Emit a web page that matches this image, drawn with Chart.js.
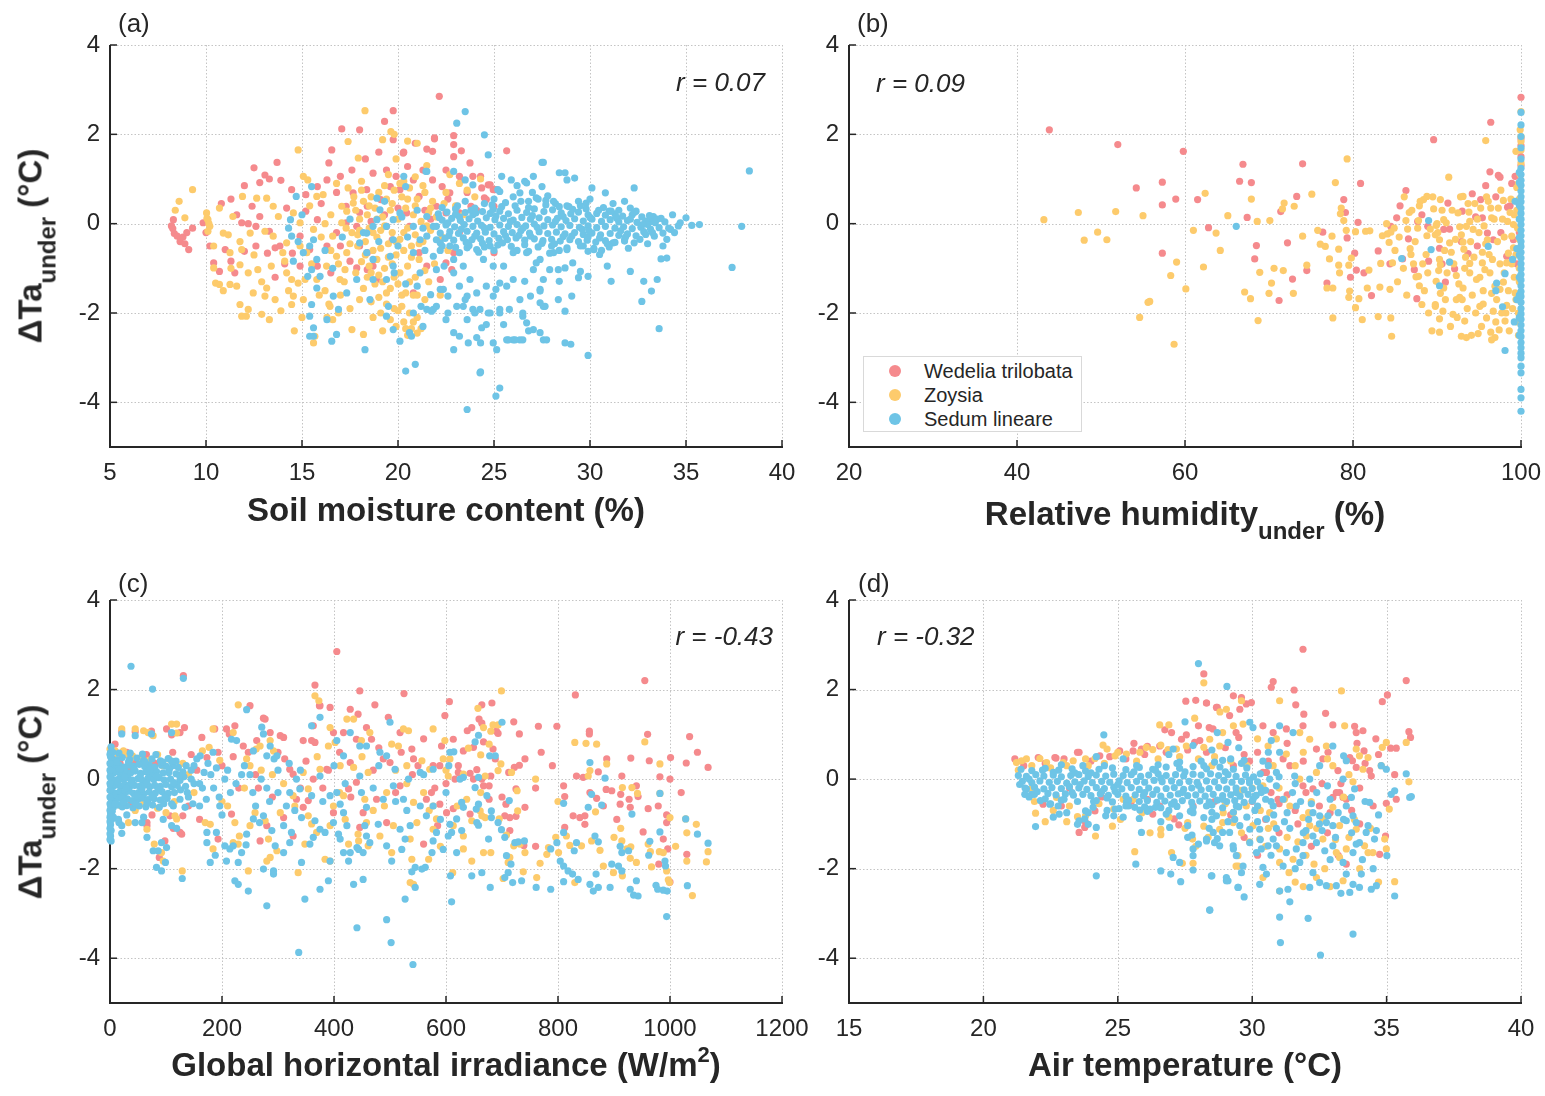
<!DOCTYPE html>
<html>
<head>
<meta charset="utf-8">
<script src="https://cdn.jsdelivr.net/npm/chart.js@4.4.1/dist/chart.umd.min.js"></script>
<style>
  html, body { margin: 0; padding: 0; background: #fff; }
  #page { position: relative; width: 1545px; height: 1096px; overflow: hidden;
          font-family: "Liberation Sans", Arial, sans-serif; color: #262626; }
  canvas { position: absolute; }
  .lbl { position: absolute; white-space: nowrap; line-height: 1; }
  .panel { font-size: 26px; }
  .r { font-size: 26px; font-style: italic; }
  .xt { font-size: 33px; font-weight: bold; transform: translateX(-50%); }
  .yt { font-size: 33px; font-weight: bold; transform: translate(-50%, -50%) rotate(-90deg); }
  .sub { font-size: 24px; position: relative; top: 14px; }
  .sup { font-size: 22px; position: relative; top: -14px; }
  #legend { position: absolute; left: 863px; top: 356px; width: 217px; height: 74px;
            background: #fff; border: 1px solid #d9d9d9; font-size: 20px; }
  #legend .item { position: absolute; left: 0; white-space: nowrap; line-height: 1; }
  #legend .dot { position: absolute; left: 25px; width: 12px; height: 12px; border-radius: 50%; }
  #legend .txt { position: absolute; left: 60px; }
</style>
</head>
<body>
<div id="page">
  <canvas id="chartA" width="822" height="540" style="left:0px;top:0px"></canvas>
  <canvas id="chartB" width="822" height="540" style="left:739px;top:0px"></canvas>
  <canvas id="chartC" width="822" height="541" style="left:0px;top:555px"></canvas>
  <canvas id="chartD" width="822" height="541" style="left:739px;top:555px"></canvas>

  <div class="lbl panel" style="left:118px;top:10px">(a)</div>
  <div class="lbl panel" style="left:857px;top:10px">(b)</div>
  <div class="lbl panel" style="left:118px;top:570px">(c)</div>
  <div class="lbl panel" style="left:858px;top:570px">(d)</div>

  <div class="lbl r" style="right:780px;top:69px">r = 0.07</div>
  <div class="lbl r" style="left:876px;top:70px">r = 0.09</div>
  <div class="lbl r" style="right:772px;top:623px">r = -0.43</div>
  <div class="lbl r" style="left:877px;top:623px">r = -0.32</div>

  <div class="lbl xt" style="left:446px;top:493px">Soil moisture content (%)</div>
  <div class="lbl xt" style="left:1185px;top:497px">Relative humidity<span class="sub">under</span> (%)</div>
  <div class="lbl xt" style="left:446px;top:1048px">Global horizontal irradiance (W/m<span class="sup">2</span>)</div>
  <div class="lbl xt" style="left:1185px;top:1048px">Air temperature (°C)</div>

  <div class="lbl yt" style="left:30px;top:246px">ΔTa<span class="sub">under</span> (°C)</div>
  <div class="lbl yt" style="left:30px;top:802px">ΔTa<span class="sub">under</span> (°C)</div>

  <div id="legend"></div>
</div>

<script>
const seriesNames = ["Wedelia trilobata", "Zoysia", "Sedum lineare"];
const seriesColors = ["#F58A8D", "#FDCB6C", "#6EC4E6"];

const yTicks = [-4, -2, 0, 2, 4];
const soilTicks = [5, 10, 15, 20, 25, 30, 35, 40];
const rhTicks = [20, 40, 60, 80, 100];
const ghiTicks = [0, 200, 400, 600, 800, 1000, 1200];
const airTicks = [15, 20, 25, 30, 35, 40];

// (a) soil moisture content (%) vs dTa under
const soilWedelia = [[8.2,-0.05],[8.27,-0.11],[8.3,0.09],[8.35,-0.22],[8.5,-0.28],[8.65,-0.4],[8.8,-0.3],[8.9,-0.45],[9.1,-0.58],[9.3,-0.1],[9.0,-0.2],[9.85,0.02],[10.0,-0.2],[10.2,-0.5],[10.4,-0.88],[10.7,-1.07],[11.0,-0.58],[11.3,-0.84],[11.5,-1.1],[11.6,0.2],[11.86,0.02],[12.0,0.85],[12.0,-0.62],[12.4,0.39],[12.6,-0.06],[12.6,-0.5],[12.8,0.92],[12.8,0.16],[13.07,1.09],[13.2,-0.66],[13.3,-0.17],[13.6,-0.54],[13.7,1.37],[13.85,-0.5],[13.9,0.97],[14.46,0.76],[15.2,0.65],[15.8,0.83],[16.3,0.98],[16.55,1.65],[17.07,2.12],[18.0,2.1],[16.4,1.36],[17.0,1.06],[15.2,0.28],[15.8,0.09],[14.9,-0.28],[15.4,-0.58],[14.9,-0.95],[14.5,-0.66],[15.8,-0.95],[16.3,-0.5],[16.8,-0.2],[17.3,0.02],[18.0,0.25],[17.3,0.39],[17.66,0.69],[18.37,0.76],[18.7,1.13],[19.4,1.2],[19.75,2.53],[19.3,2.29],[19.75,1.88],[20.27,1.58],[19.9,1.06],[19.6,0.83],[19.1,0.54],[18.4,0.39],[17.85,-0.06],[18.0,-0.5],[17.5,-0.84],[17.85,-0.99],[18.4,-0.65],[18.7,-0.95],[18.9,-1.25],[22.15,2.85],[21.9,1.9],[21.5,1.67],[21.8,1.62],[22.9,1.77],[22.9,1.5],[23.3,1.63],[23.75,1.36],[25.66,1.63],[22.5,1.2],[23.2,1.06],[23.9,1.06],[24.36,0.8],[24.7,0.87],[24.96,0.76],[22.3,0.83],[22.7,0.69],[21.8,0.98],[21.3,1.2],[20.8,0.98],[20.5,1.28],[20.1,0.76],[21.1,0.61],[22.0,0.39],[22.5,0.24],[23.2,0.24],[23.8,0.39],[24.5,0.58],[25.0,0.39],[23.2,-0.2],[22.9,-0.65],[22.5,-0.88],[22.8,-1.03],[22.2,-1.25],[25.0,-0.65],[19.7,-0.36],[19.4,-0.06],[20.6,-0.06],[20.45,0.24],[21.1,-0.65],[21.5,-0.95],[20.8,-1.55],[18.4,-1.03],[21.9,1.92],[22.9,1.97],[24.3,1.06],[24.8,0.87],[24.6,0.54],[25.1,0.76],[23.3,0.98],[20.3,1.6],[12.5,1.25],[13.3,1.0],[11.3,0.55],[10.8,0.45],[12.2,0.0],[14.2,0.35],[16.0,0.45],[16.8,0.7],[17.6,1.2],[18.3,1.45],[19.0,1.6],[20.9,1.8],[21.4,0.3],[20.0,0.35],[22.6,0.55],[23.6,0.7],[24.1,0.3],[21.7,0.1],[19.3,0.2],[18.6,0.05],[17.0,-0.5],[16.5,-1.1],[14.1,-0.9],[13.6,-1.2]];
const soilZoysia = [[8.4,0.3],[8.6,0.5],[8.9,0.13],[9.3,0.76],[10.03,0.24],[10.1,0.09],[10.2,-0.06],[10.1,-0.17],[10.05,0.12],[10.15,0.0],[10.7,0.35],[10.9,-0.21],[11.16,-0.25],[10.4,-0.5],[10.4,-0.99],[10.5,-1.33],[10.7,-1.36],[11.25,-1.36],[11.6,-1.4],[11.77,-1.81],[11.86,-2.07],[12.1,-2.07],[12.2,-1.92],[12.46,-1.55],[12.9,-2.03],[13.3,-2.15],[13.16,-1.44],[13.6,-1.7],[13.07,-1.62],[11.77,-0.92],[12.2,-1.1],[12.7,-1.03],[11.25,-0.65],[11.77,-0.4],[11.86,-0.58],[12.3,-0.21],[13.07,-0.17],[13.5,-0.28],[14.0,-0.65],[14.1,-0.84],[14.2,-1.1],[14.46,-1.25],[14.55,-1.62],[14.46,-1.81],[15.07,-1.7],[15.16,-1.25],[14.8,-1.33],[14.2,-0.43],[13.77,0.16],[13.5,0.39],[13.16,0.57],[12.64,0.57],[11.9,0.61],[11.4,0.16],[14.8,1.65],[15.07,1.06],[15.3,0.98],[15.77,0.61],[16.1,0.65],[14.55,0.24],[14.9,0.02],[15.6,-0.13],[15.25,-0.65],[15.77,-1.25],[16.6,-2.15],[16.46,-1.85],[16.98,-1.25],[17.24,-1.03],[17.33,-0.65],[16.8,-0.73],[16.28,-0.95],[16.6,-0.28],[17.07,0.02],[17.33,0.28],[17.07,0.39],[17.67,0.46],[18.1,0.95],[17.93,1.47],[17.4,1.84],[18.28,2.53],[19.2,1.88],[19.63,2.06],[17.6,-2.37],[18.2,-2.48],[16.3,-2.1],[15.6,-2.67],[15.67,-2.52],[14.3,-1.5],[14.9,-0.5],[15.5,-0.9],[16.0,-0.3],[16.5,0.2],[13.9,-1.95],[12.5,-0.7],[10.9,-1.5],[11.3,-1.0],[17.8,0.3],[18.2,0.5],[18.6,0.6],[19.0,0.7],[19.4,0.55],[19.8,0.75],[20.2,0.6],[20.6,0.8],[21.0,0.55],[21.4,0.7],[21.8,0.5],[18.0,0.1],[18.4,0.2],[18.8,0.35],[19.2,0.15],[19.6,0.3],[20.0,0.1],[20.4,0.35],[20.8,0.2],[21.2,0.05],[21.6,0.25],[22.0,0.15],[17.6,-0.2],[18.0,-0.15],[18.5,-0.1],[18.9,-0.3],[19.3,-0.05],[19.7,-0.2],[20.1,-0.35],[20.5,-0.1],[20.9,-0.25],[21.3,-0.4],[21.7,-0.15],[17.9,-0.5],[18.3,-0.4],[18.7,-0.6],[19.1,-0.55],[19.5,-0.45],[19.9,-0.7],[20.3,-0.6],[20.7,-0.5],[21.1,-0.8],[18.1,-0.85],[18.5,-0.95],[18.9,-0.8],[19.3,-1.0],[19.7,-0.9],[20.1,-1.1],[20.5,-0.95],[20.9,-1.2],[18.4,-1.2],[18.8,-1.35],[19.2,-1.3],[19.6,-1.45],[20.0,-1.35],[20.4,-1.55],[20.8,-1.6],[19.0,-1.65],[19.4,-1.8],[19.8,-1.9],[20.2,-1.85],[20.6,-2.0],[21.0,-2.1],[20.3,-2.2],[20.7,-2.35],[20.5,-2.5],[21.0,-2.45],[19.9,-2.3],[20.3,0.95],[19.5,1.1],[20.9,1.05],[21.5,1.3],[19.9,1.45],[22.7,1.1],[23.2,0.9],[23.6,0.75],[24.0,0.6],[24.3,1.0],[22.5,0.7],[23.0,0.4],[22.3,-0.3],[22.6,-0.6],[21.9,-0.9],[21.6,-1.3],[22.2,-1.6],[21.4,-1.7],[22.4,0.45],[23.4,0.2],[17.0,-1.6],[17.5,-1.9],[18.0,-1.7],[16.8,0.9],[17.4,0.8],[16.2,-1.5],[15.0,-2.1],[14.6,-2.4],[16.9,-2.0],[18.7,-2.1],[13.4,-0.95],[12.9,-1.3],[19.8,2.0],[20.5,1.85],[21.0,1.8],[17.7,0.6],[18.1,0.75],[18.5,0.4],[18.9,0.1],[19.3,0.85],[19.7,0.45],[20.1,0.9],[20.5,0.55],[20.9,0.4],[21.3,0.85],[21.7,0.35],[17.5,-0.45],[17.9,-0.25],[18.3,-0.7],[18.7,-0.2],[19.1,-0.15],[19.5,-0.75],[19.9,-0.4],[20.3,-0.2],[20.7,-0.75],[21.1,-0.45],[21.5,-0.05],[17.8,-1.1],[18.2,-1.45],[18.6,-1.1],[19.0,-1.15],[19.4,-1.55],[19.8,-1.2],[20.2,-1.6],[20.6,-1.3],[21.0,-1.6],[21.4,-1.05],[18.6,-1.75],[19.1,-2.0],[19.6,-2.15],[20.0,-1.95],[20.4,-2.35],[20.8,-2.2],[21.2,-2.35],[19.2,-2.4],[16.5,-0.6],[16.9,-0.9],[17.2,-1.3],[16.4,-1.8],[15.9,-1.6],[17.3,-0.1],[16.2,0.0],[15.4,0.4]];
const soilSedum = [[23.5,2.51],[23.06,2.25],[24.5,1.99],[24.7,1.54],[27.57,1.37],[27.05,1.06],[26.6,0.95],[25.9,0.98],[25.4,1.06],[25.2,0.76],[23.9,0.87],[23.5,0.98],[22.9,1.17],[21.5,1.17],[20.3,1.06],[20.4,0.83],[18.9,0.57],[15.5,0.83],[14.7,0.61],[14.4,0.09],[14.3,-0.1],[14.46,-0.28],[14.55,-0.84],[15.07,-0.65],[15.4,-0.5],[15.6,-0.36],[15.77,-0.8],[15.5,-1.03],[15.3,-1.18],[15.94,-1.18],[15.77,-1.44],[15.5,-1.81],[15.4,-2.07],[15.6,-2.33],[15.4,-2.52],[15.6,-2.52],[16.3,-2.15],[16.8,-2.48],[16.55,-2.63],[16.63,-1.62],[16.9,-1.92],[17.33,-1.55],[17.85,-1.25],[18.28,-2.82],[18.54,-1.7],[18.7,-1.25],[18.7,-0.8],[18.37,-0.65],[18.0,-0.43],[18.37,-0.21],[18.7,-0.06],[18.9,0.09],[19.06,0.31],[19.4,-0.06],[19.75,0.09],[20.1,0.24],[19.75,-0.36],[19.6,-0.73],[19.75,-0.95],[19.4,-1.25],[19.5,-1.85],[19.4,-2.07],[19.75,-2.37],[20.1,-2.63],[20.4,-3.3],[20.9,-3.15],[20.6,-2.44],[20.8,-2.0],[21.3,-2.3],[21.5,-1.92],[21.0,-1.4],[21.15,-1.1],[20.8,-0.65],[21.15,-0.36],[20.8,-0.06],[21.5,0.16],[21.84,-0.06],[21.5,-0.28],[22.2,-0.43],[21.84,-0.73],[22.0,-1.03],[22.36,-1.47],[22.0,-1.85],[22.5,-2.15],[22.9,-2.44],[22.9,-2.82],[23.2,-2.52],[23.6,-2.15],[23.4,-1.85],[23.2,-1.4],[22.9,-1.1],[23.4,-0.95],[23.75,-1.25],[24.1,-1.55],[23.6,-1.62],[24.27,-1.92],[24.0,-2.0],[24.36,-2.33],[24.27,-3.34],[24.96,-2.67],[24.7,-2.0],[24.96,-1.62],[24.6,-1.4],[25.3,-1.33],[25.1,-1.47],[25.66,-1.4],[26.0,-1.25],[25.3,-2.0],[25.5,-2.26],[25.66,-2.6],[26.0,-2.6],[26.35,-2.6],[26.7,-2.22],[27.4,-2.44],[27.57,-2.6],[27.05,-2.37],[26.5,-2.0],[26.35,-1.7],[26.9,-1.62],[27.4,-1.47],[27.57,-1.25],[27.05,-1.03],[27.4,-0.8],[26.7,-0.65],[26.0,-0.65],[25.5,-0.95],[24.96,-0.95],[24.45,-0.8],[24.1,-0.58],[24.8,-0.5],[23.6,-0.54],[23.2,-0.65],[22.7,-0.5],[22.9,-0.8],[22.4,-0.95],[20.7,-2.52],[21.75,-1.96],[22.6,-2.0],[23.66,-2.67],[24.1,-2.55],[24.3,-2.67],[24.6,-2.26],[25.14,-2.82],[25.75,-2.6],[26.1,-2.6],[26.5,-2.6],[26.8,-2.4],[27.74,-2.6],[28.7,-2.67],[29.0,-2.7],[28.7,-1.96],[29.05,-1.62],[28.35,-1.7],[27.4,-1.77],[27.66,-1.85],[26.5,-2.07],[25.8,-1.92],[25.3,-1.92],[24.8,-2.0],[23.9,-1.92],[23.5,-1.7],[23.06,-1.85],[22.6,-1.62],[22.2,-1.47],[21.7,-1.59],[21.2,-1.85],[21.84,-1.92],[29.9,-1.18],[29.4,-1.21],[29.5,-1.07],[28.4,-1.29],[28.7,-0.99],[28.35,-1.03],[27.9,-1.03],[27.2,-0.88],[26.6,-1.29],[27.4,-1.51],[27.57,-1.85],[31.1,-1.29],[30.9,-0.95],[32.1,-1.07],[32.8,-1.29],[33.5,-1.25],[33.2,-1.51],[32.7,-1.74],[33.6,-2.35],[33.7,-0.79],[34.0,-0.77],[33.8,-0.5],[30.5,-0.69],[30.2,-0.58],[29.65,-0.5],[28.8,-0.58],[28.1,-0.65],[29.1,-0.88],[31.2,-0.43],[31.8,-0.36],[29.9,-2.95],[23.6,-4.16],[25.1,-3.86],[25.3,-3.68],[24.3,-3.32],[37.4,-0.98],[27.5,1.37],[28.4,1.14],[28.7,1.14],[29.2,1.02],[28.8,0.98],[30.1,0.8],[30.8,0.69],[32.3,0.8],[31.8,0.5],[32.1,0.35],[31.0,0.28],[29.8,0.46],[26.7,0.91],[27.5,0.83],[25.3,0.72],[26.35,0.69],[34.3,0.2],[35.0,0.13],[35.7,-0.02],[35.3,-0.04],[37.9,-0.06],[38.3,1.18],[34.7,0.02],[33.3,0.16],[33.2,0.05],[33.8,-0.21],[34.2,-0.13],[21.46,1.17],[27.2,0.58],[27.7,0.52],[28.2,0.45],[28.8,0.4],[26.8,0.5],[17.5,0.1],[18.2,-0.2],[19.0,-0.4],[19.3,0.5],[20.0,-0.5],[20.5,-0.3],[20.2,0.15],[21.0,0.3],[21.3,-0.1],[19.8,-1.1],[20.4,-1.35],[21.4,-0.6],[16.2,-0.6],[16.6,-1.0],[17.1,-0.3],[15.0,0.2],[14.8,-0.4],[22.3,0.36],[23.1,0.4],[24.0,0.35],[24.9,0.42],[25.6,0.47],[26.4,0.5],[27.3,0.55],[28.1,0.5],[28.9,0.38],[29.8,0.33],[30.7,0.36],[31.5,0.3],[32.4,0.28],[22.1,0.22],[22.55,0.26],[23.0,0.21],[23.5,0.25],[23.9,0.2],[24.4,0.27],[24.8,0.23],[25.3,0.28],[25.75,0.22],[26.2,0.3],[26.7,0.25],[27.1,0.33],[27.6,0.27],[28.05,0.31],[28.5,0.24],[29.0,0.22],[29.4,0.26],[29.9,0.2],[30.35,0.23],[30.8,0.19],[31.3,0.22],[31.7,0.17],[32.2,0.2],[32.7,0.15],[33.1,0.18],[22.3,0.08],[22.8,0.12],[23.25,0.07],[23.7,0.11],[24.15,0.06],[24.6,0.13],[25.05,0.09],[25.5,0.12],[26.0,0.08],[26.45,0.14],[26.9,0.1],[27.35,0.13],[27.8,0.09],[28.3,0.12],[28.75,0.07],[29.2,0.11],[29.65,0.06],[30.1,0.1],[30.6,0.05],[31.05,0.09],[31.5,0.04],[31.95,0.07],[32.45,0.03],[32.9,0.06],[33.4,0.02],[33.9,0.04],[22.0,-0.06],[22.5,-0.03],[22.95,-0.07],[23.45,-0.02],[23.9,-0.06],[24.35,-0.04],[24.8,-0.08],[25.3,-0.03],[25.75,-0.06],[26.2,-0.02],[26.65,-0.05],[27.1,-0.01],[27.6,-0.05],[28.05,-0.03],[28.5,-0.07],[28.95,-0.04],[29.45,-0.08],[29.9,-0.05],[30.35,-0.09],[30.8,-0.06],[31.3,-0.1],[31.75,-0.07],[32.2,-0.11],[32.65,-0.08],[33.15,-0.12],[33.6,-0.09],[34.1,-0.1],[22.2,-0.21],[22.7,-0.18],[23.15,-0.22],[23.6,-0.17],[24.1,-0.21],[24.55,-0.19],[25.0,-0.23],[25.5,-0.18],[25.95,-0.2],[26.4,-0.16],[26.85,-0.21],[27.35,-0.18],[27.8,-0.22],[28.25,-0.19],[28.7,-0.23],[29.2,-0.2],[29.65,-0.24],[30.1,-0.21],[30.55,-0.25],[31.05,-0.22],[31.5,-0.26],[31.95,-0.23],[32.4,-0.27],[32.9,-0.24],[33.35,-0.28],[22.0,-0.36],[22.45,-0.33],[22.9,-0.37],[23.4,-0.32],[23.85,-0.36],[24.3,-0.34],[24.75,-0.38],[25.25,-0.33],[25.7,-0.36],[26.15,-0.32],[26.6,-0.37],[27.1,-0.34],[27.55,-0.38],[28.0,-0.35],[28.45,-0.39],[28.95,-0.36],[29.4,-0.4],[29.85,-0.37],[30.3,-0.41],[30.8,-0.38],[31.3,-0.42],[31.8,-0.39],[32.3,-0.43],[22.3,-0.5],[23.0,-0.53],[23.7,-0.49],[24.5,-0.52],[25.2,-0.48],[25.9,-0.51],[26.6,-0.47],[27.3,-0.52],[28.0,-0.5],[28.8,-0.54],[29.5,-0.5],[30.2,-0.55],[31.0,-0.52],[22.6,0.02],[23.3,-0.12],[23.8,0.3],[24.4,-0.44],[25.1,0.17],[25.6,-0.27],[26.1,0.4],[26.5,-0.1],[27.0,0.18],[27.5,-0.44],[28.2,0.05],[28.6,-0.29],[29.1,0.32],[29.6,-0.13],[30.0,0.14],[30.5,-0.32],[31.1,0.28],[31.6,-0.16],[32.1,0.1],[32.6,-0.35],[33.0,-0.02],[33.5,0.1],[34.4,-0.2],[23.0,0.33],[24.0,-0.28],[25.4,0.38],[26.9,-0.28],[28.4,0.38],[29.9,-0.3],[31.4,0.12],[32.8,-0.18],[22.2,-0.6],[24.2,-0.64],[26.2,-0.6],[27.9,-0.66],[29.9,-0.62],[26.0,0.6],[27.8,0.62],[25.0,0.55],[29.4,0.5],[22.15,0.14],[22.65,-0.27],[23.2,0.15],[23.55,-0.42],[24.05,0.24],[24.5,-0.1],[24.95,0.32],[25.45,-0.43],[25.85,0.05],[26.3,-0.26],[26.8,0.36],[27.25,-0.08],[27.7,0.42],[28.15,-0.45],[28.6,0.16],[29.05,-0.28],[29.5,0.4],[29.95,-0.16],[30.45,0.3],[30.9,-0.45],[31.35,0.16],[31.85,-0.3],[32.3,0.25],[32.75,-0.02],[33.25,-0.2],[33.7,0.12],[34.0,-0.35],[34.6,-0.05],[25.0,-0.6],[26.8,-0.62],[28.4,-0.6],[30.6,-0.6],[32.0,-0.55],[33.0,-0.45],[23.5,0.5],[24.5,0.45],[30.0,0.55],[31.2,0.45],[27.0,0.7],[26.2,0.85]];

// (b) relative humidity under (%) vs dTa under
const rhWedelia = [[43.85,2.1],[52.0,1.77],[54.2,0.8],[57.3,0.93],[57.3,0.42],[58.9,0.55],[59.8,1.62],[57.3,-0.66],[61.5,0.54],[62.8,-0.09],[66.5,0.95],[66.9,1.33],[67.9,0.92],[67.4,0.14],[68.5,-0.49],[68.3,-0.79],[71.2,-1.72],[72.8,-1.24],[72.2,-0.43],[71.4,0.27],[73.3,0.61],[74.0,1.34],[74.5,-1.05],[76.4,-0.19],[76.9,-1.33],[78.9,0.54],[79.1,0.25],[79.3,-0.32],[79.7,-1.2],[80.4,-1.04],[80.2,-0.66],[80.6,0.03],[80.9,0.9],[81.3,-1.1],[82.2,-1.61],[83.0,-0.61],[84.5,-0.06],[84.4,-0.9],[85.2,0.13],[85.9,-0.79],[86.3,0.74],[86.6,-0.34],[87.3,-1.03],[87.6,-1.68],[87.7,0.05],[89.0,-0.84],[88.9,-0.06],[89.6,1.88],[90.3,-0.55],[91.0,-1.31],[91.3,0.46],[90.8,-0.13],[91.5,-0.12],[92.1,-1.01],[93.0,0.28],[93.7,-0.67],[94.2,0.67],[94.6,0.15],[95.2,0.54],[95.4,0.13],[96.4,2.27],[96.3,1.16],[96.7,-0.36],[96.0,-0.21],[97.3,1.08],[97.5,1.04],[98.4,0.37],[98.7,0.4],[98.3,-0.73],[99.3,1.06],[99.1,-0.36],[99.7,0.5],[99.8,-0.2],[100,2.83],[100,1.9],[100,1.75],[100,1.5],[100,1.3],[85.6,0.4],[88.2,0.2],[90.6,-0.9],[92.9,-0.4],[94.8,-0.5],[97.6,-0.2],[98.9,0.9],[99.5,-0.9],[95.8,0.85],[97.0,0.6]];
const rhZoysia = [[43.2,0.09],[47.3,0.25],[51.75,0.27],[55.0,0.18],[49.6,-0.19],[48.0,-0.37],[50.7,-0.36],[55.6,-1.76],[54.6,-2.1],[58.7,-2.7],[55.8,-1.74],[59.0,-0.86],[58.3,-1.16],[60.1,-1.46],[62.4,0.68],[61.0,-0.15],[63.7,-0.21],[64.2,-0.6],[62.2,-0.97],[65.1,0.18],[67.9,0.55],[68.6,0.05],[70.1,0.07],[68.9,-1.09],[67.1,-1.53],[67.8,-1.68],[68.7,-2.17],[70.0,-1.56],[70.6,-1.0],[70.3,-1.33],[71.7,-1.05],[72.9,-1.56],[71.8,0.46],[71.6,0.33],[73.0,0.39],[75.1,0.66],[74.0,-0.28],[74.5,-0.93],[75.8,-0.15],[76.1,-0.46],[76.7,-0.51],[77.5,-0.28],[77.9,0.92],[77.2,-0.79],[78.3,-0.57],[76.9,-1.44],[77.6,-1.44],[77.6,-2.11],[78.3,-0.93],[78.4,-1.1],[78.9,0.07],[79.2,-0.15],[78.6,0.35],[78.5,0.22],[79.3,1.45],[79.5,-0.93],[79.6,-1.51],[79.5,-1.65],[79.8,-0.77],[80.3,-1.88],[80.3,-0.18],[80.7,-1.68],[81.1,-2.15],[81.7,-1.44],[81.9,-1.04],[81.5,-0.17],[82.0,-0.16],[83.3,-0.89],[83.0,-2.08],[83.2,-1.42],[84.0,0.0],[83.5,-0.27],[84.1,-0.23],[84.5,-0.19],[84.3,-0.42],[84.6,-2.52],[84.5,-2.11],[84.4,-1.47],[84.7,-0.88],[84.9,-0.1],[86.1,0.6],[86.3,0.07],[86.5,-0.12],[86.8,-0.56],[86.9,-0.69],[87.2,-0.9],[87.5,-1.19],[87.9,-1.39],[87.8,-1.18],[88.2,-1.81],[88.0,0.5],[88.4,0.54],[88.8,0.61],[87.8,0.07],[87.7,-0.1],[88.7,-0.69],[88.8,-0.27],[89.2,-0.12],[89.6,0.33],[89.8,-0.25],[89.9,-0.04],[90.0,0.0],[90.3,-0.36],[90.3,-0.8],[90.4,-0.92],[89.9,-1.29],[90.4,-1.56],[90.8,-1.44],[89.8,-1.81],[89.8,-1.85],[90.7,-1.96],[90.3,-2.13],[90.3,-2.43],[91.4,1.04],[90.4,0.54],[90.8,0.09],[91.1,0.02],[91.5,-0.43],[91.5,-0.86],[91.7,-0.64],[91.9,-2.03],[92.3,-1.7],[92.3,-1.16],[92.5,0.24],[92.7,-0.07],[93.1,0.61],[92.9,-0.25],[93.1,-0.41],[93.2,-0.57],[93.1,-1.44],[92.7,-1.65],[93.0,-1.7],[93.3,-2.18],[92.9,-2.52],[93.5,-2.55],[93.9,-1.1],[93.9,-0.89],[93.5,-0.06],[93.8,0.26],[93.9,0.05],[94.3,-0.13],[95.2,0.35],[94.9,-2.46],[95.1,-1.85],[95.5,-1.5],[95.4,-0.64],[95.4,-0.88],[95.7,-1.03],[95.8,1.86],[96.4,0.35],[96.5,0.13],[96.0,-0.36],[96.2,-0.69],[96.4,-2.43],[96.9,-2.55],[97.4,-2.38],[95.9,-2.11],[96.7,-1.96],[97.1,-1.7],[96.5,-1.56],[97.5,-1.47],[97.9,-1.31],[98.3,-1.83],[98.1,-2.18],[97.6,0.75],[97.9,0.52],[98.7,0.25],[98.3,-0.88],[98.5,-0.66],[99.1,-0.54],[99.4,1.62],[99.5,0.81],[99.1,-0.02],[98.9,-0.28],[99.3,-1.55],[85.5,-0.3],[86.0,-1.0],[87.0,0.3],[88.5,-1.5],[89.0,-2.0],[90.9,-0.6],[91.8,0.3],[92.0,-0.9],[92.6,-1.35],[93.6,-1.9],[94.0,-0.4],[94.5,0.45],[94.7,-1.25],[95.0,-0.2],[95.6,-0.05],[95.9,0.6],[96.3,-1.1],[96.8,0.1],[97.2,-0.4],[97.5,-0.9],[97.8,0.1],[98.0,-0.3],[98.5,-1.5],[98.8,0.55],[99.0,-1.9],[99.2,-1.2],[99.4,-0.7],[99.5,0.3],[99.6,-2.2],[99.7,-2.5],[100,2.51],[100,1.95],[100,1.84],[100,1.65],[100,1.36],[99.8,-0.35],[99.8,-1.0],[99.7,0.9],[94.2,-1.6],[93.4,-0.75],[91.2,-1.1],[90.1,-0.2],[96.6,-0.8],[97.0,-2.2],[98.2,-2.0],[94.6,-2.0],[95.3,-2.3],[85.0,-0.6],[85.3,-1.3],[86.4,-1.6],[86.7,0.25],[87.4,-0.4],[87.9,0.4],[88.3,-0.9],[88.9,-1.1],[89.4,-2.4],[89.5,0.6],[90.2,-1.05],[90.6,0.3],[91.0,-1.7],[91.6,-2.3],[92.2,-0.35],[92.4,-2.1],[92.8,0.6],[93.3,-1.0],[93.7,0.45],[94.1,-2.5],[94.4,-0.75],[94.8,0.1],[95.1,-1.2],[95.5,-1.8],[95.8,-0.45],[96.1,0.5],[96.5,-2.6],[96.9,-1.4],[97.3,0.35],[97.7,-2.0],[98.0,-1.1],[98.4,0.05],[98.6,-2.4],[98.9,-0.9],[99.2,0.2],[99.4,-1.7],[99.6,-0.1],[99.7,-2.0],[99.8,0.55],[99.8,-1.3],[99.9,1.1],[99.9,2.1]];
const rhSedum = [[66.1,-0.06],[85.8,-0.78],[89.0,0.07],[89.3,-0.58],[90.3,-1.39],[91.5,-0.86],[96.1,-0.51],[97.1,-1.33],[97.0,-1.5],[97.8,-1.86],[98.1,-2.84],[98.1,-1.12],[99.5,-0.56],[99.5,-1.7],[99.2,-2.2],[99.0,-0.8],[99.3,0.5],[100,2.49],[100,2.21],[100,1.95],[100,1.7],[100,1.45],[100,1.24],[100,1.1],[100,0.97],[100,0.86],[100,0.73],[100,0.6],[100,0.49],[100,0.35],[100,0.23],[100,0.1],[100,-0.02],[100,-0.15],[100,-0.27],[100,-0.4],[100,-0.51],[100,-0.64],[100,-0.77],[100,-0.9],[100,-1.01],[100,-1.14],[100,-1.26],[100,-1.39],[100,-1.52],[100,-1.63],[100,-1.76],[100,-1.9],[100,-2.02],[100,-2.14],[100,-2.27],[100,-2.4],[100,-2.53],[100,-2.66],[100,-2.78],[100,-2.9],[100,-3.0],[100,-3.19],[100,-3.34],[100,-3.71],[100,-3.9],[100,-4.2],[99.8,0.92],[99.8,0.41],[99.8,-0.31],[99.8,-0.7],[99.8,-1.2],[99.8,-1.6],[99.8,-2.1],[99.8,-2.5],[99.8,1.15],[99.8,0.1]];

// (c) global horizontal irradiance (W/m2) vs dTa under
const ghiWedelia = [[131,2.31],[405,2.85],[366,2.1],[374,1.64],[446,1.97],[525,1.91],[473,1.66],[250,1.64],[274,1.36],[9,0.78],[21,1.06],[45,1.06],[60,0.37],[66,-0.97],[66,-1.04],[88,-1.75],[98,-1.38],[113,-1.1],[125,-1.19],[128,-1.23],[107,-0.82],[130,-0.82],[133,1.15],[125,1.04],[110,0.99],[101,1.12],[74,1.07],[30,0.6],[39,0.37],[33,0.22],[164,0.93],[173,0.48],[187,1.12],[193,0.6],[208,1.12],[213,1.01],[223,1.19],[238,0.74],[247,0.6],[262,0.86],[277,1.34],[286,1.04],[304,0.97],[310,0.93],[312,0.45],[193,-1.34],[217,-0.78],[268,-1.38],[280,-1.04],[310,-0.86],[321,0.22],[327,0.11],[345,0.86],[360,0.86],[366,0.82],[363,1.19],[375,1.64],[393,1.6],[399,1.04],[417,1.04],[429,1.56],[443,1.45],[458,1.15],[440,0.89],[467,0.89],[429,0.37],[387,0.22],[363,0.0],[354,-0.48],[333,-0.45],[345,-0.63],[327,-1.27],[399,-0.75],[426,-0.22],[446,-1.08],[452,-0.75],[440,-0.07],[497,1.38],[518,1.04],[539,0.67],[488,0.45],[500,0.37],[542,0.45],[577,0.3],[518,-0.15],[476,-0.45],[565,-0.45],[589,-0.56],[494,-0.97],[560,-1.45],[955,2.2],[831,1.88],[682,1.7],[664,1.66],[606,1.73],[598,1.42],[659,1.34],[664,1.25],[721,1.28],[731,1.01],[765,1.18],[798,1.18],[856,1.07],[856,1.01],[887,0.45],[930,0.47],[963,0.41],[1001,0.48],[1029,0.36],[1049,0.6],[1068,0.26],[940,-0.15],[982,0.05],[1000,0.0],[961,-0.66],[979,-0.6],[994,-0.8],[994,-0.97],[1030,-1.68],[996,-1.56],[988,-1.34],[952,-1.18],[929,-0.63],[943,-0.39],[927,-0.45],[914,0.07],[912,-0.34],[911,-0.56],[896,-0.26],[886,-0.23],[872,0.16],[845,0.04],[857,-0.3],[869,-0.43],[881,-0.6],[833,0.07],[810,-0.15],[812,-0.39],[827,-0.82],[839,-0.86],[848,-0.82],[848,-1.01],[812,-1.08],[714,-1.15],[739,-1.48],[705,-0.82],[714,-0.86],[725,-0.83],[741,-0.63],[707,-0.56],[725,-0.22],[712,0.15],[722,0.26],[731,0.31],[741,0.45],[688,0.45],[684,0.67],[649,0.71],[667,0.83],[690,1.07],[693,1.02],[646,1.15],[638,1.08],[631,0.63],[613,0.89],[622,0.3],[622,0.15],[616,0.0],[643,0.13],[649,0.0],[655,0.21],[664,0.0],[667,-0.15],[677,-0.15],[680,0.07],[677,-0.45],[643,-0.78],[613,-0.66],[601,-0.75],[585,-1.04],[574,-0.3],[589,0.3],[592,0.74],[6,0.45],[18,0.35],[50,0.4],[65,0.55],[80,0.35],[112,0.6],[145,0.55],[155,0.2],[10,-0.4],[38,-0.55],[75,-0.8],[140,-0.6],[160,-0.9],[200,0.3],[230,-0.2],[260,0.1],[290,-0.4],[350,0.4],[380,-0.2],[410,0.6],[470,0.2],[540,0.1],[560,0.9],[580,-0.2],[520,0.6],[1035,0.95],[1020,-0.3],[960,1.0],[905,-0.9],[790,0.3],[760,-0.2],[770,0.6],[700,-0.4],[980,-1.9],[1000,-2.3],[760,-1.5],[220,0.5],[265,-0.2],[300,0.6],[340,-0.2],[390,0.2],[430,-0.4],[480,0.7],[510,-0.3],[550,0.3],[600,-0.1]];
const ghiZoysia = [[0,0.67],[9,0.63],[21,1.12],[45,1.12],[36,0.45],[33,-0.97],[66,-1.12],[79,-1.45],[92,-1.64],[95,-1.83],[116,-0.82],[119,-0.89],[129,-2.05],[110,1.23],[119,1.23],[119,1.03],[60,1.08],[68,1.04],[77,0.97],[24,0.63],[177,0.71],[165,0.63],[184,1.12],[196,0.42],[220,1.04],[229,1.66],[244,0.45],[261,0.67],[268,0.74],[286,0.86],[292,0.63],[184,-1.56],[170,-0.97],[179,-1.01],[220,-1.42],[229,-1.45],[231,-1.27],[223,-0.97],[247,-2.05],[250,-1.04],[259,-0.75],[277,-0.93],[283,-1.34],[298,-1.6],[286,-1.75],[280,-1.83],[304,-0.75],[345,0.15],[390,0.74],[393,1.15],[402,0.82],[423,1.34],[435,1.34],[449,0.86],[464,1.04],[435,0.26],[411,0.3],[375,0.22],[354,-0.22],[327,-0.37],[354,-0.82],[369,-1.19],[348,-1.45],[336,-2.09],[384,-1.79],[393,-1.83],[393,-1.04],[399,-0.6],[417,-0.37],[426,-1.45],[444,-1.38],[443,-1.23],[458,-0.97],[455,-0.45],[461,0.15],[461,-1.49],[524,1.12],[533,1.08],[503,0.78],[515,0.74],[530,0.3],[557,0.41],[571,0.22],[494,-0.3],[542,-0.52],[577,-0.6],[548,-0.97],[506,-1.04],[482,-1.27],[503,-1.64],[539,-1.79],[569,-1.79],[542,-2.35],[536,-2.31],[536,-1.34],[577,-1.12],[366,1.86],[373,1.75],[699,1.97],[657,1.58],[830,0.82],[869,0.78],[887,0.34],[955,0.83],[982,0.34],[932,-0.19],[942,-0.32],[982,-0.32],[1000,-0.86],[1028,-0.89],[1047,-1.01],[1068,-1.62],[1030,-1.83],[997,-2.25],[999,-2.31],[994,-2.05],[988,-1.64],[981,-1.62],[967,-1.96],[965,-1.62],[961,-1.45],[940,-1.86],[929,-1.77],[923,-1.56],[930,-1.51],[915,-0.19],[912,-1.1],[914,-1.38],[857,0.19],[854,0.07],[867,-0.73],[860,-1.38],[875,-1.59],[842,-1.49],[821,-1.48],[815,-1.27],[796,-1.3],[783,-1.53],[780,-1.68],[768,-1.88],[801,-1.64],[830,-2.31],[881,-1.94],[915,-2.16],[899,-2.09],[762,-2.2],[711,-1.86],[738,-2.07],[702,-2.22],[612,-2.09],[631,-1.56],[646,-1.83],[667,-1.64],[680,-1.64],[714,-1.75],[721,-1.49],[732,-1.45],[741,-1.64],[708,-1.25],[695,-0.89],[728,-0.71],[727,-0.26],[717,0.15],[698,0.34],[693,0.19],[677,0.78],[662,0.54],[667,1.15],[680,1.07],[684,1.21],[693,1.21],[640,0.69],[598,0.86],[607,0.45],[631,0.11],[604,0.07],[670,0.07],[662,-0.3],[661,-0.71],[670,-0.86],[664,-0.82],[646,-0.93],[637,-0.45],[613,-1.04],[631,-1.27],[583,-0.89],[595,0.45],[577,1.12],[1065,-1.85],[1030,-1.2],[2,0.62],[15,0.5],[28,0.55],[40,0.52],[55,0.48],[70,0.42],[85,0.55],[95,0.3],[105,0.45],[130,0.35],[3,-0.5],[20,-0.6],[45,-0.7],[60,-0.55],[85,-0.65],[100,-0.75],[115,-0.5],[140,0.1],[150,-0.3],[200,-0.5],[240,-0.2],[270,0.2],[310,-0.1],[360,-1.0],[420,-0.9],[470,-0.7],[510,0.2],[560,-0.3],[590,-1.5],[620,-0.6],[760,0.0],[800,-0.5],[850,0.8],[900,-1.3],[1010,-1.5],[1040,-2.6],[210,-0.6],[250,0.3],[290,0.1],[330,-0.6],[370,0.5],[410,-0.3],[450,0.5],[490,-0.6],[530,-0.1],[570,-0.7],[600,0.2]];
const ghiSedum = [[37.5,2.52],[76,2.01],[131,2.25],[244,1.55],[271,1.16],[21,1.01],[45,0.97],[21,-1.04],[21,-1.21],[16,-0.97],[45,-0.97],[57,-0.97],[66,-1.3],[77,-1.6],[86,-1.6],[92,-1.42],[92,-2.05],[83,-1.97],[101,-1.53],[99,-1.86],[110,-1.04],[113,-0.6],[129,-2.22],[119,-1.1],[134,-0.63],[110,1.04],[74,1.01],[161,0.52],[184,0.6],[217,0.89],[226,0.86],[256,0.63],[274,1.01],[286,0.74],[293,0.45],[280,0.52],[298,0.52],[179,-1.86],[188,-1.7],[173,-1.42],[173,-1.19],[190,-1.19],[205,-1.49],[208,-1.83],[214,-1.56],[220,-1.49],[229,-1.86],[243,-1.47],[235,-1.64],[223,-2.27],[229,-2.35],[247,-2.5],[244,-1.23],[256,-0.89],[267,-0.97],[274,-0.82],[289,-1.15],[295,-1.49],[292,-2.12],[292,-2.05],[280,-2.83],[274,-2.01],[310,-1.64],[310,-1.04],[333,0.0],[360,1.19],[375,1.38],[405,0.86],[429,1.04],[446,0.74],[458,0.74],[417,0.52],[375,0.07],[360,-0.37],[339,-0.22],[321,-0.3],[342,-0.86],[366,-0.93],[375,-1.12],[363,-1.3],[357,-1.45],[324,-1.19],[321,-1.42],[348,-2.68],[337,-3.87],[342,-1.86],[375,-2.46],[390,-2.27],[393,-1.83],[384,-1.19],[399,-0.97],[393,-0.37],[405,-0.3],[411,-0.56],[417,-0.75],[423,-1.04],[408,-1.23],[411,-1.34],[417,-1.64],[429,-1.64],[426,-1.83],[441,-1.53],[444,-1.57],[452,-1.64],[455,-1.04],[458,-0.63],[449,-0.3],[446,0.07],[435,-2.35],[452,-2.24],[441,-3.32],[464,-1.42],[458,-1.27],[500,1.27],[494,0.52],[482,0.6],[509,0.22],[554,0.15],[533,0.0],[506,-0.15],[488,-0.45],[524,-0.45],[554,-0.6],[565,-0.82],[536,-1.04],[518,-1.12],[479,-1.01],[494,-1.49],[503,-1.83],[527,-2.68],[539,-2.07],[545,-1.97],[557,-2.01],[563,-1.97],[575,-1.64],[545,-2.42],[541,-4.14],[502,-3.65],[494,-3.14],[521,-1.57],[527,-1.34],[577,-1.38],[583,-1.19],[595,-1.57],[884,0.02],[857,0.37],[860,-0.34],[878,-0.58],[810,-0.54],[854,-0.63],[866,-1.27],[872,-1.4],[833,-1.42],[829,-1.6],[810,-1.19],[798,-1.42],[787,-1.56],[804,-1.83],[810,-1.94],[818,-2.05],[826,-2.12],[836,-2.24],[810,-2.29],[857,-2.35],[863,-2.5],[872,-2.42],[893,-2.42],[868,-2.12],[896,-1.9],[908,-1.94],[914,-2.05],[787,-2.46],[761,-2.42],[735,-2.27],[719,-2.31],[711,-2.09],[705,-2.2],[679,-2.42],[664,-2.09],[646,-2.16],[610,-2.74],[608,-2.16],[619,-1.64],[676,-1.34],[708,-1.71],[716,-1.9],[723,-1.42],[740,-1.38],[729,-1.4],[705,-1.3],[699,-1.13],[693,-0.97],[713,-0.48],[688,0.52],[678,0.52],[658,0.98],[700,1.27],[652,0.83],[614,0.61],[607,0.6],[605,0.3],[625,0.0],[631,0.04],[652,-0.19],[658,0.04],[673,-0.37],[658,-0.56],[654,-0.67],[681,-0.71],[681,-0.86],[655,-0.97],[658,-1.03],[631,-0.63],[628,-0.52],[619,-0.89],[607,-1.01],[610,-1.19],[628,-1.15],[604,-1.27],[577,-0.6],[577,0.22],[982,-1.18],[962,-1.7],[964,-1.39],[940,-2.27],[935,-2.59],[943,-2.61],[929,-2.46],[932,-0.78],[926,-1.6],[911,-1.5],[914,-1.64],[1028,-0.89],[1049,-1.23],[1068,-1.43],[1031,-2.38],[995,-2.5],[994,-3.07],[975,-2.37],[978,-2.46],[988,-2.48],[991,-1.83],[992,-1.94],[982,-0.32],[150,0.3],[165,-0.2],[180,0.1],[195,-0.4],[210,0.2],[225,-0.1],[240,0.3],[255,-0.3],[270,0.0],[285,-0.5],[300,0.2],[315,-0.6],[200,-0.8],[160,-0.6],[145,0.0],[175,0.35],[250,0.1],[280,-0.2],[320,0.35],[330,-0.7],[3,0.46],[12,0.43],[22,0.48],[35,0.44],[48,0.47],[60,0.42],[75,0.45],[90,0.41],[104,0.46],[2,0.31],[8,0.28],[16,0.32],[25,0.27],[33,0.31],[42,0.29],[52,0.33],[62,0.28],[70,0.32],[80,0.27],[92,0.31],[100,0.29],[112,0.3],[122,0.26],[1,0.16],[6,0.13],[13,0.17],[20,0.12],[28,0.16],[37,0.14],[45,0.18],[55,0.13],[65,0.16],[73,0.12],[83,0.17],[95,0.14],[105,0.15],[118,0.12],[130,0.16],[2,0.01],[9,-0.02],[17,0.02],[24,-0.01],[32,0.03],[40,-0.02],[50,0.01],[58,-0.03],[68,0.02],[78,-0.01],[88,0.03],[97,-0.02],[108,0.0],[125,-0.03],[1,-0.14],[5,-0.17],[12,-0.13],[19,-0.16],[27,-0.12],[35,-0.17],[44,-0.14],[53,-0.16],[62,-0.13],[71,-0.17],[80,-0.14],[90,-0.16],[100,-0.12],[110,-0.17],[120,-0.14],[135,-0.16],[3,-0.29],[10,-0.32],[18,-0.28],[26,-0.31],[34,-0.27],[42,-0.32],[51,-0.3],[60,-0.33],[70,-0.29],[81,-0.31],[93,-0.28],[104,-0.32],[115,-0.3],[2,-0.44],[8,-0.47],[15,-0.43],[23,-0.46],[31,-0.44],[40,-0.48],[50,-0.45],[59,-0.42],[68,-0.46],[79,-0.44],[90,-0.47],[102,-0.43],[1,-0.6],[6,-0.63],[14,-0.58],[22,-0.62],[30,-0.59],[41,-0.64],[52,-0.6],[64,-0.62],[76,-0.58],[88,-0.63],[1,0.6],[2,0.72],[1,-0.78],[3,-0.9],[1,-1.02],[2,-1.15],[1,-1.27],[2,-1.38],[4,-0.72],[6,-0.85],[4,0.2],[7,-0.35],[11,0.38],[14,-0.07],[18,0.22],[21,-0.4],[26,0.05],[29,-0.2],[33,0.38],[38,-0.08],[43,0.22],[47,-0.37],[54,0.06],[57,-0.22],[63,0.38],[66,-0.08],[72,0.22],[76,-0.38],[84,0.07],[86,-0.24],[94,0.38],[98,-0.4],[106,0.22],[114,-0.08],[118,0.4],[126,-0.24],[132,0.05],[140,-0.4],[145,0.2],[150,-0.1],[0,0.35],[0,0.05],[0,-0.25],[0,-0.55],[0,-0.85],[0,-1.1],[0,-1.35],[1,0.5],[0,0.55],[0,0.2],[0,-0.1],[0,-0.4],[0,-0.7],[0,-0.95],[0,-1.22],[5,0.6],[9,-0.55],[16,0.58],[24,-0.52],[36,0.58],[46,-0.55],[58,0.56],[66,-0.53],[82,0.55],[96,-0.55],[110,0.4],[124,0.08],[136,0.3],[138,-0.3],[148,-0.55],[155,0.45],[160,-0.1],[168,0.15],[172,-0.45],[185,-0.2],[190,0.25],[196,-0.6],[205,0.0],[110,-0.55],[125,-0.45],[95,-0.9],[60,-0.85],[30,-0.8],[15,-0.9],[215,-0.3],[235,0.1],[260,-0.6],[300,-0.3],[340,0.2],[380,-0.5],[400,0.3],[420,-0.1],[470,-0.2],[480,0.3],[510,-0.5],[530,-0.7],[560,0.1],[590,-0.9],[600,-0.3]];

// (d) air temperature (degC) vs dTa under
const airWedelia = [[28.2,2.35],[27.53,1.74],[27.9,1.76],[28.3,1.7],[28.7,1.6],[29.3,1.86],[28.0,1.19],[28.4,1.15],[27.0,1.04],[26.75,1.1],[27.55,0.99],[25.6,0.8],[26.1,0.73],[23.56,0.6],[22.7,0.47],[27.86,0.82],[29.5,0.93],[23.56,-1.19],[27.27,-1.02],[26.56,-0.6],[26.3,-0.78],[27.1,-0.89],[24.15,-0.71],[23.8,-0.97],[23.77,-1.08],[22.22,-0.56],[21.17,0.45],[22.04,0.48],[22.66,0.48],[23.5,0.6],[24.33,0.52],[25.07,0.63],[25.57,0.63],[25.88,0.67],[26.56,0.74],[27.37,0.89],[28.05,0.86],[28.54,1.12],[29.16,1.42],[29.4,1.04],[31.89,2.9],[30.78,2.18],[30.71,2.05],[31.56,1.99],[31.62,1.66],[31.92,1.45],[32.73,1.47],[33.0,1.21],[33.81,1.18],[34.12,1.08],[33.87,1.04],[34.84,1.73],[35.03,1.88],[35.73,2.2],[35.83,1.06],[35.89,0.93],[35.15,0.69],[35.36,0.69],[34.99,-0.54],[35.36,-0.45],[34.96,-1.27],[34.74,-1.68],[34.37,0.19],[34.43,0.07],[34.16,0.63],[33.63,0.48],[33.73,0.41],[33.87,0.26],[33.19,0.19],[33.25,-0.3],[33.38,-0.41],[33.13,-0.3],[33.0,-0.41],[33.5,-0.45],[30.96,-0.45],[30.53,0.15],[31.15,0.45],[31.4,0.3],[31.89,-0.15],[32.26,-0.22],[32.63,0.45],[32.82,0.6],[32.39,0.67],[31.89,1.19],[31.27,1.12],[30.78,1.04],[30.4,1.19],[29.54,1.56],[29.78,1.68],[29.97,1.71],[29.6,1.82],[28.3,1.7],[28.67,1.6],[21.5,0.3],[22.3,0.35],[23.0,0.45],[24.0,0.4],[24.7,0.5],[25.3,0.45],[26.0,0.55],[26.8,0.6],[27.6,0.65],[28.3,0.6],[29.0,0.7],[29.7,0.55],[30.2,0.6],[30.0,-0.5],[30.5,-0.9],[31.0,-1.2],[31.6,-0.7],[32.0,-0.3],[32.5,-0.6],[32.8,-1.2],[33.2,-1.7],[34.0,-0.2],[34.5,-0.6],[31.3,0.8],[30.6,0.4],[29.2,-0.8],[28.6,-0.5],[27.8,-0.6],[25.5,-0.5],[24.4,-0.4],[22.9,-0.6],[23.2,-0.2],[26.1,-0.45],[29.7,-1.3],[31.7,-1.0],[32.2,-1.5],[33.5,-1.9],[30.2,-1.7],[33.9,0.8],[34.6,0.9],[29.3,0.3],[29.9,0.4],[30.4,0.15],[31.0,-0.55],[31.9,0.4],[32.6,-0.1],[33.3,-0.1],[33.7,-0.7],[34.2,0.35],[34.7,0.55],[32.9,-0.75],[31.3,-0.35],[30.7,-0.3],[35.3,0.1],[34.0,-1.0]];
const airZoysia = [[28.2,2.15],[28.8,1.5],[27.86,1.36],[26.56,1.21],[26.9,1.21],[26.6,0.76],[24.45,0.76],[24.6,0.67],[25.0,0.6],[28.79,0.74],[21.94,-0.76],[23.5,-0.84],[24.17,-1.27],[25.63,-1.62],[26.6,-1.12],[26.6,-1.24],[27.6,-0.97],[27.0,-1.64],[27.4,-1.88],[27.78,-1.34],[27.8,-1.88],[28.36,-1.3],[29.4,-1.94],[29.47,-1.71],[29.3,-0.75],[28.9,-0.97],[25.57,-0.45],[25.2,-0.45],[24.85,-0.67],[23.8,-0.82],[22.72,-0.41],[21.79,-0.22],[21.23,0.37],[21.42,0.41],[21.6,0.45],[22.1,0.46],[22.35,0.37],[22.97,0.37],[23.34,0.41],[23.8,0.45],[24.15,0.46],[24.9,0.52],[25.32,0.56],[25.82,0.6],[26.06,0.71],[26.3,0.66],[26.87,0.66],[27.18,0.67],[27.55,0.74],[28.2,0.71],[28.42,0.89],[28.9,1.04],[29.3,1.19],[31.02,1.75],[33.32,1.97],[33.44,1.19],[35.73,0.82],[34.84,0.71],[34.99,0.82],[35.83,-0.06],[35.1,-0.67],[34.99,-1.56],[35.3,-2.29],[34.93,-1.34],[34.49,-1.64],[34.31,0.48],[33.87,0.67],[33.99,0.52],[34.12,0.22],[33.75,-0.06],[33.0,-0.63],[32.63,-0.89],[33.25,-1.04],[33.87,-1.12],[34.18,-1.49],[34.31,-1.64],[33.5,-1.56],[33.13,-1.64],[33.25,-1.75],[33.38,-2.27],[32.39,-2.2],[31.37,-2.09],[31.02,-1.86],[31.02,-2.5],[30.4,-2.2],[29.48,-1.94],[30.28,-1.34],[31.02,-1.56],[31.52,-1.79],[32.02,-1.27],[32.63,-1.34],[32.14,-1.04],[31.89,-0.86],[31.4,-0.6],[30.65,-0.75],[30.03,-1.04],[29.29,-0.97],[28.79,-1.12],[28.92,-0.75],[29.78,-0.6],[30.4,-0.15],[30.78,0.3],[31.27,0.56],[31.77,0.0],[32.39,0.15],[32.76,0.74],[32.14,0.89],[31.77,1.04],[30.59,0.74],[29.66,1.23],[29.6,1.75],[29.04,1.56],[21.3,0.2],[21.8,0.3],[22.5,0.25],[23.1,0.3],[23.9,0.3],[24.5,0.35],[25.7,0.4],[26.5,0.45],[27.3,0.5],[28.0,0.45],[28.6,0.5],[29.2,0.4],[29.8,0.3],[21.9,-0.5],[22.6,-0.7],[23.2,-0.6],[24.3,-0.55],[25.9,-0.75],[26.9,-0.85],[27.5,-1.1],[28.2,-1.05],[29.9,-1.4],[30.6,-1.1],[31.3,-1.3],[32.0,-1.7],[32.7,-2.0],[33.6,-1.3],[34.0,-2.0],[31.6,-2.3],[32.9,-2.4],[30.0,-0.2],[31.0,-0.2],[32.2,-0.5],[33.0,0.3],[30.2,0.9],[28.5,0.3],[29.0,-0.55],[29.6,-0.25],[30.3,-0.7],[30.8,-1.0],[31.2,-0.45],[31.7,-1.4],[32.1,-0.75],[32.4,-1.1],[33.1,-1.35],[33.4,-0.4],[33.8,-0.9],[34.4,-1.1],[34.7,-2.3],[32.3,-1.9],[31.9,-2.4],[30.5,-1.5],[29.6,-1.2],[27.9,-1.5],[26.2,-1.2],[25.1,-0.9],[24.8,-1.05],[23.1,-0.95],[22.3,-0.95],[33.6,0.1],[34.8,0.3],[32.8,0.45],[31.6,0.3],[30.9,0.9],[31.9,0.6]];
const airSedum = [[28.0,2.58],[29.06,2.07],[27.5,1.28],[24.48,0.99],[27.06,0.67],[28.7,1.04],[29.1,0.82],[21.94,-1.06],[22.82,-0.78],[23.56,-0.93],[23.9,-1.01],[24.2,-1.08],[24.55,-0.82],[24.85,-0.82],[24.2,-2.16],[25.67,-1.9],[25.88,-1.19],[25.8,-0.88],[26.93,-1.08],[27.6,-1.04],[26.6,-2.05],[26.97,-2.12],[27.06,-1.75],[27.3,-1.86],[27.34,-2.29],[27.76,-1.25],[27.8,-1.56],[27.8,-1.71],[27.8,-2.03],[28.0,-1.45],[28.3,-1.38],[28.6,-1.42],[28.42,-2.92],[28.5,-2.16],[29.04,-2.2],[29.1,-2.27],[29.47,-2.42],[29.3,-1.56],[29.35,-0.9],[28.9,-1.19],[28.7,-1.33],[28.5,-0.9],[28.2,-0.86],[27.8,-0.75],[27.3,-0.82],[26.8,-0.78],[26.4,-0.63],[26.2,-0.67],[25.82,-0.69],[25.63,-0.63],[25.32,-0.51],[25.05,-0.66],[24.9,-0.67],[24.08,-0.63],[23.8,-0.71],[23.5,-1.01],[23.77,-0.89],[23.1,-0.75],[22.78,-0.6],[22.47,-0.56],[22.12,-0.48],[21.79,-0.34],[21.6,-0.22],[21.54,-0.34],[35.73,0.12],[35.86,-0.41],[35.92,-0.39],[34.8,0.3],[34.99,0.22],[35.17,-0.34],[35.3,-0.26],[35.01,-1.71],[35.3,-2.61],[34.55,-1.34],[34.62,-1.15],[34.31,-1.04],[34.37,-0.52],[34.2,-0.5],[33.4,0.52],[33.5,0.41],[33.38,0.0],[33.81,-0.22],[33.69,-0.41],[33.5,-0.6],[32.82,-0.82],[32.76,-0.97],[33.0,-1.04],[33.5,-0.93],[33.75,-0.82],[33.87,-0.97],[33.99,-1.42],[34.24,-1.19],[33.87,-1.45],[33.75,-1.64],[33.0,-1.49],[33.38,-1.86],[33.5,-2.12],[33.63,-2.53],[33.75,-2.35],[33.99,-2.42],[34.43,-2.46],[34.62,-2.38],[34.06,-2.12],[33.75,-3.46],[33.13,-2.38],[32.76,-2.38],[32.51,-2.31],[32.26,-2.09],[32.14,-2.42],[32.08,-3.11],[32.54,-3.93],[31.02,-3.08],[31.05,-3.65],[31.33,-2.46],[31.02,-2.5],[31.4,-2.74],[31.15,-1.94],[30.53,-2.12],[30.4,-1.97],[30.28,-2.35],[29.7,-2.63],[29.48,-2.42],[29.6,-2.09],[29.66,-1.94],[29.04,-2.27],[28.48,-2.16],[28.42,-2.93],[29.41,-1.71],[29.29,-1.49],[29.91,-1.42],[30.16,-1.64],[30.34,-1.56],[30.59,-1.49],[30.78,-1.34],[30.9,-1.49],[31.27,-1.64],[31.64,-1.56],[31.89,-1.42],[32.26,-1.27],[32.39,-1.42],[31.77,-1.86],[31.89,-1.71],[32.51,-0.82],[32.26,-0.75],[31.64,-0.6],[31.15,-0.45],[30.78,-0.6],[30.53,-0.89],[30.28,-1.12],[29.91,-1.12],[29.54,-1.04],[29.16,-1.19],[28.55,-1.19],[28.3,-1.34],[28.79,-1.49],[28.67,-0.82],[29.41,-0.6],[30.03,-0.45],[30.34,-0.3],[30.65,0.0],[30.9,0.15],[31.02,0.6],[31.58,0.07],[32.14,0.0],[32.51,0.3],[33.0,0.74],[31.52,1.04],[31.02,1.19],[30.71,0.86],[30.03,1.15],[29.91,1.27],[30.2,-0.6],[30.5,-0.45],[30.8,-0.8],[31.2,-0.95],[31.5,-0.3],[31.8,-0.5],[32.1,-0.9],[32.4,-0.3],[30.3,-1.35],[30.7,-1.7],[31.4,-1.1],[32.0,-1.15],[32.7,-1.6],[32.9,-0.45],[33.2,-0.75],[32.6,-1.15],[21.4,0.22],[21.8,0.19],[22.3,0.24],[22.8,0.2],[23.3,0.23],[23.8,0.18],[24.3,0.22],[24.8,0.25],[25.3,0.21],[25.8,0.26],[26.3,0.22],[26.8,0.27],[27.3,0.24],[27.8,0.28],[28.3,0.23],[28.8,0.27],[29.3,0.22],[29.8,0.25],[21.3,0.08],[21.6,0.06],[21.95,0.1],[22.25,0.07],[22.6,0.09],[22.9,0.05],[23.25,0.08],[23.55,0.1],[23.9,0.06],[24.2,0.09],[24.55,0.07],[24.85,0.11],[25.2,0.08],[25.5,0.1],[25.85,0.06],[26.15,0.09],[26.5,0.12],[26.8,0.08],[27.15,0.1],[27.45,0.07],[27.8,0.11],[28.1,0.09],[28.45,0.12],[28.75,0.08],[29.1,0.1],[29.4,0.06],[29.75,0.09],[30.05,0.05],[21.45,-0.05],[21.8,-0.08],[22.1,-0.04],[22.45,-0.07],[22.75,-0.05],[23.1,-0.09],[23.4,-0.06],[23.75,-0.04],[24.05,-0.08],[24.4,-0.05],[24.7,-0.07],[25.05,-0.04],[25.35,-0.08],[25.7,-0.05],[26.0,-0.07],[26.35,-0.03],[26.65,-0.06],[27.0,-0.04],[27.3,-0.08],[27.65,-0.05],[27.95,-0.07],[28.3,-0.04],[28.6,-0.06],[28.95,-0.03],[29.25,-0.07],[29.6,-0.05],[29.9,-0.08],[30.2,-0.06],[21.55,-0.2],[21.9,-0.18],[22.25,-0.22],[22.55,-0.19],[22.9,-0.21],[23.2,-0.17],[23.55,-0.2],[23.85,-0.23],[24.2,-0.19],[24.5,-0.21],[24.85,-0.18],[25.15,-0.22],[25.5,-0.19],[25.8,-0.23],[26.15,-0.2],[26.45,-0.24],[26.8,-0.21],[27.1,-0.19],[27.45,-0.23],[27.75,-0.2],[28.1,-0.24],[28.4,-0.21],[28.75,-0.19],[29.05,-0.22],[29.4,-0.2],[29.7,-0.24],[30.0,-0.21],[30.3,-0.19],[21.9,-0.34],[22.4,-0.32],[22.7,-0.35],[23.05,-0.33],[23.35,-0.36],[23.7,-0.34],[24.0,-0.37],[24.35,-0.33],[24.65,-0.36],[25.0,-0.34],[25.3,-0.38],[25.65,-0.35],[25.95,-0.37],[26.3,-0.34],[26.6,-0.38],[26.95,-0.36],[27.25,-0.33],[27.6,-0.37],[27.9,-0.35],[28.25,-0.38],[28.55,-0.34],[28.9,-0.37],[29.2,-0.35],[29.55,-0.38],[29.85,-0.34],[30.15,-0.36],[22.9,-0.47],[23.5,-0.5],[24.2,-0.48],[24.8,-0.51],[25.4,-0.47],[25.8,-0.5],[26.1,-0.48],[26.45,-0.52],[26.75,-0.49],[27.1,-0.51],[27.4,-0.48],[27.75,-0.52],[28.05,-0.49],[28.4,-0.51],[28.7,-0.47],[29.05,-0.5],[29.35,-0.48],[29.7,-0.52],[30.0,-0.49],[26.0,-0.62],[26.6,-0.64],[27.2,-0.61],[27.8,-0.63],[28.3,-0.6],[28.9,-0.64],[29.5,-0.62],[21.7,0.0],[22.0,-0.28],[22.6,0.15],[23.0,-0.45],[23.6,-0.12],[24.0,0.14],[24.6,-0.42],[25.0,-0.12],[25.6,0.16],[26.0,-0.3],[26.6,0.02],[27.0,-0.56],[27.5,0.16],[28.0,-0.14],[28.5,-0.58],[29.0,0.16],[29.4,-0.3],[29.9,-0.02],[30.3,0.12],[30.5,-0.25],[22.3,-0.44],[23.4,0.14],[24.4,-0.28],[25.4,-0.6],[26.4,0.2],[27.4,-0.3],[28.2,0.3],[28.9,-0.45],[29.6,0.35],[30.1,-0.38],[30.6,0.3],[30.9,-0.15],[29.2,0.45],[28.6,0.38],[27.2,0.35],[21.35,-0.12],[21.7,-0.4],[22.2,0.2],[22.5,-0.55],[22.9,0.32],[23.3,-0.3],[23.7,0.3],[24.1,-0.5],[24.5,0.3],[24.9,-0.27],[25.3,-0.6],[25.7,0.3],[26.1,-0.72],[26.5,0.32],[26.9,-0.7],[27.3,0.38],[27.7,-0.72],[28.1,0.4],[28.5,-0.74],[28.9,0.42],[29.3,-0.74],[29.7,0.42],[30.1,-0.7],[30.4,0.4],[30.7,-0.5],[31.0,0.05],[31.3,-0.75],[31.6,-0.1],[31.9,-1.2],[32.2,-0.55],[32.5,-1.0],[32.8,-0.15],[33.1,-1.3],[33.4,-0.9],[33.7,-1.2],[30.9,-1.1],[30.2,-0.95],[29.8,-0.85],[29.1,-0.95],[28.4,-1.1],[27.6,-1.3],[26.6,-0.95],[25.2,-0.85],[24.6,-0.7],[23.9,-0.75],[22.6,-0.85],[31.6,-2.0],[32.9,-1.8],[33.3,-2.55],[34.1,-1.8],[34.7,-0.8],[34.5,-2.0],[30.6,0.6],[29.5,0.7],[28.5,0.65],[27.8,0.75],[26.9,0.55],[25.2,0.45],[24.2,0.5]];

// drawing helpers
const tickFont = { family: "'Liberation Sans', Arial, sans-serif", size: 24 };
const inkColor = "#262626";

const matlabAxes = {
  id: "matlabAxes",
  beforeDatasetsDraw(chart) {
    const { ctx, chartArea: a, scales: { x, y } } = chart;
    ctx.save();
    // dotted grid
    ctx.strokeStyle = "#c4c4c4";
    ctx.lineWidth = 1;
    ctx.setLineDash([1.5, 2]);
    x.ticks.forEach(t => {
      const px = Math.round(x.getPixelForValue(t.value)) + 0.5;
      ctx.beginPath(); ctx.moveTo(px, a.top); ctx.lineTo(px, a.bottom); ctx.stroke();
    });
    y.ticks.forEach(t => {
      const py = Math.round(y.getPixelForValue(t.value)) + 0.5;
      ctx.beginPath(); ctx.moveTo(a.left, py); ctx.lineTo(a.right, py); ctx.stroke();
    });
    ctx.setLineDash([]);
    // axis lines left and bottom, ticks pointing inward
    ctx.strokeStyle = inkColor;
    ctx.lineWidth = 2;
    ctx.beginPath();
    ctx.moveTo(a.left, a.top); ctx.lineTo(a.left, a.bottom); ctx.lineTo(a.right + 1, a.bottom);
    ctx.stroke();
    ctx.lineWidth = 1.5;
    x.ticks.forEach(t => {
      const px = x.getPixelForValue(t.value);
      ctx.beginPath(); ctx.moveTo(px, a.bottom); ctx.lineTo(px, a.bottom - 7); ctx.stroke();
    });
    y.ticks.forEach(t => {
      const py = y.getPixelForValue(t.value);
      ctx.beginPath(); ctx.moveTo(a.left, py); ctx.lineTo(a.left + 7, py); ctx.stroke();
    });
    ctx.restore();
  }
};

function makeChart(canvasId, xTicks, series, padRight) {
  const ctx = document.getElementById(canvasId).getContext("2d");
  return new Chart(ctx, {
    type: "scatter",
    data: {
      datasets: series.map((pts, i) => ({
        label: seriesNames[i],
        data: pts.map(p => ({ x: p[0], y: p[1] })),
        pointBackgroundColor: seriesColors[i],
        backgroundColor: seriesColors[i],
        pointRadius: 3.6,
        pointBorderWidth: 0,
        pointHoverRadius: 3.6,
        order: 3 - i,
        clip: false
      }))
    },
    options: {
      responsive: false,
      animation: false,
      devicePixelRatio: 1,
      events: [],
      layout: { padding: { left: 0, right: padRight, top: 45, bottom: 0 } },
      plugins: { legend: { display: false }, tooltip: { enabled: false } },
      scales: {
        x: {
          type: "linear",
          min: xTicks[0],
          max: xTicks[xTicks.length - 1],
          afterBuildTicks: s => { s.ticks = xTicks.map(v => ({ value: v })); },
          afterFit: s => { s.height = 93; },
          grid: { display: false, drawTicks: false },
          border: { display: false },
          ticks: { font: tickFont, color: inkColor, padding: 12, maxRotation: 0, autoSkip: false, callback: v => String(v) }
        },
        y: {
          type: "linear",
          min: -5,
          max: 4,
          afterBuildTicks: s => { s.ticks = yTicks.map(v => ({ value: v })); },
          afterFit: s => { s.width = 110; },
          grid: { display: false, drawTicks: false },
          border: { display: false },
          ticks: { font: tickFont, color: inkColor, padding: 10, callback: v => String(v) }
        }
      }
    },
    plugins: [matlabAxes]
  });
}

makeChart("chartA", soilTicks, [soilWedelia, soilZoysia, soilSedum], 40);
makeChart("chartB", rhTicks, [rhWedelia, rhZoysia, rhSedum], 40);
makeChart("chartC", ghiTicks, [ghiWedelia, ghiZoysia, ghiSedum], 40);
makeChart("chartD", airTicks, [airWedelia, airZoysia, airSedum], 40);

// legend inside panel (b)
const legend = document.getElementById("legend");
seriesNames.forEach((name, i) => {
  const item = document.createElement("div");
  item.className = "item";
  item.style.top = (4 + i * 24) + "px";
  item.innerHTML = `<span class="dot" style="background:${seriesColors[i]};top:4px"></span><span class="txt">${name}</span>`;
  legend.appendChild(item);
});
</script>
</body>
</html>
